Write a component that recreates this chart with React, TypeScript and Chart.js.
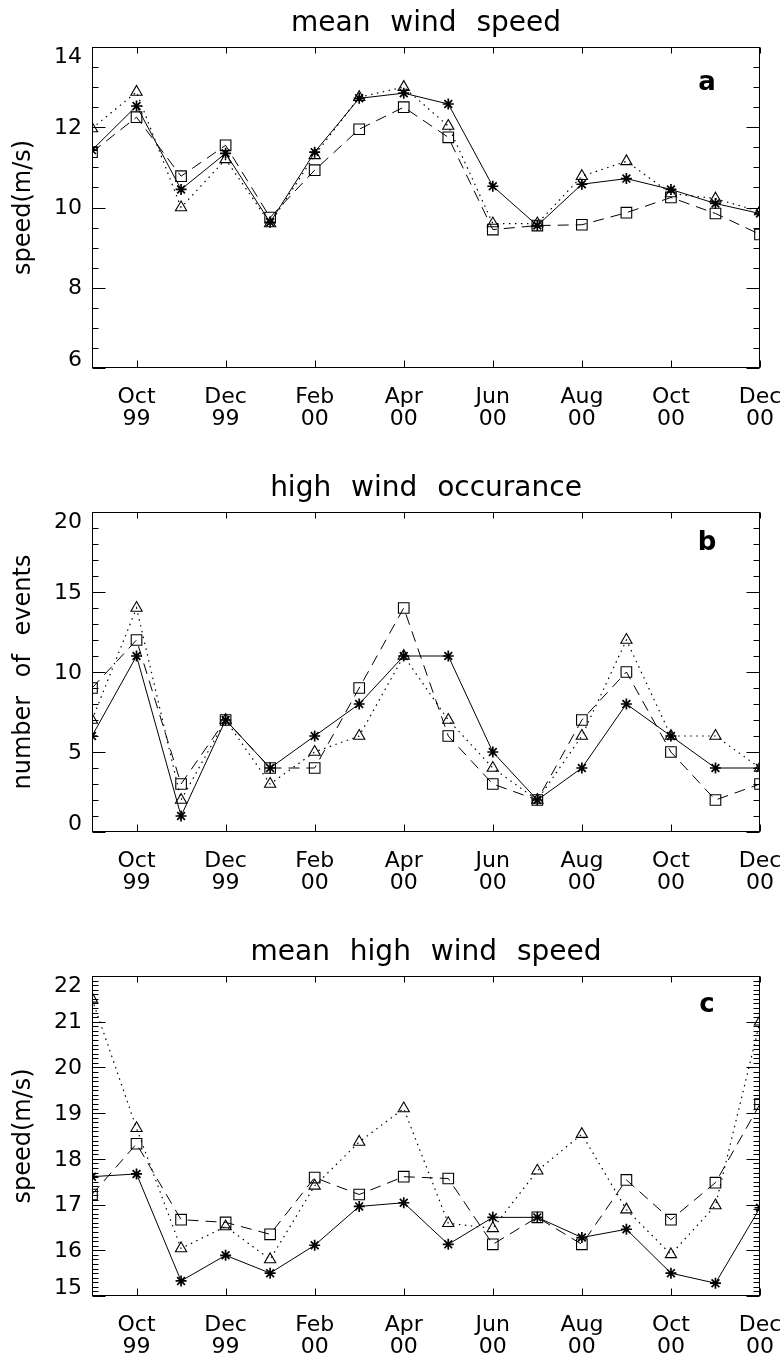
import React, { useEffect, useRef } from 'react';
import { Chart, registerables } from 'chart.js';

Chart.register(...registerables);

const months = ['Sep 99', 'Oct 99', 'Nov 99', 'Dec 99', 'Jan 00', 'Feb 00', 'Mar 00', 'Apr 00',
  'May 00', 'Jun 00', 'Jul 00', 'Aug 00', 'Sep 00', 'Oct 00', 'Nov 00', 'Dec 00'];
const tickMonths = ['Oct', 'Dec', 'Feb', 'Apr', 'Jun', 'Aug', 'Oct', 'Dec'];
const tickYears = ['99', '99', '00', '00', '00', '00', '00', '00'];

// panel a: mean wind speed
const windSolid = [11.43, 12.53, 10.45, 11.35, 9.63, 11.38, 12.72, 12.85, 12.58, 10.53, 9.55, 10.58, 10.72, 10.45, 10.1, 9.85];
const windDotted = [11.97, 12.88, 10.0, 11.2, 9.6, 11.3, 12.75, 13.0, 12.03, 9.6, 9.6, 10.78, 11.15, 10.35, 10.22, 9.9];
const windDashed = [11.38, 12.25, 10.78, 11.55, 9.75, 10.93, 11.95, 12.5, 11.75, 9.45, 9.55, 9.57, 9.87, 10.25, 9.85, 9.33];
const windTicks = [6, 8, 10, 12, 14];

// panel b: high wind occurance
const occSolid = [6, 11, 1, 7, 4, 6, 8, 11, 11, 5, 2, 4, 8, 6, 4, 4];
const occDotted = [7, 14, 2, 7, 3, 5, 6, 11, 7, 4, 2, 6, 12, 6, 6, 4];
const occDashed = [9, 12, 3, 7, 4, 4, 9, 14, 6, 3, 2, 7, 10, 5, 2, 3];
const occTicks = [0, 5, 10, 15, 20];

// panel c: mean high wind speed
const hsSolid = [17.61, 17.67, 15.33, 15.89, 15.5, 16.11, 16.96, 17.04, 16.13, 16.72, 16.72, 16.28, 16.46, 15.5, 15.28, 16.93];
const hsDotted = [21.5, 18.67, 16.04, 16.52, 15.8, 17.41, 18.37, 19.1, 16.59, 16.48, 17.74, 18.54, 16.89, 15.91, 16.98, 21.0];
const hsDashed = [17.22, 18.33, 16.67, 16.61, 16.35, 17.59, 17.22, 17.61, 17.57, 16.13, 16.72, 16.13, 17.54, 16.67, 17.48, 19.2];
const hsTicks = [15, 16, 17, 18, 19, 20, 21, 22];

const FONT = '"DejaVu Sans", sans-serif';

type PanelCfg = {
  title: string; yTitle: string; letter: string;
  solid: number[]; dotted: number[]; dashed: number[]; ticks: number[];
  minor: number; top: number; height: number; areaBottom: number; letterBaseline: number;
};

const panels: PanelCfg[] = [
  { title: 'mean wind speed', yTitle: 'speed(m/s)', letter: 'a', solid: windSolid, dotted: windDotted, dashed: windDashed,
    ticks: windTicks, minor: 0.5, top: 0, height: 440, areaBottom: 368, letterBaseline: 90 },
  { title: 'high wind occurance', yTitle: 'number of events', letter: 'b', solid: occSolid, dotted: occDotted, dashed: occDashed,
    ticks: occTicks, minor: 1, top: 465, height: 440, areaBottom: 367, letterBaseline: 550 },
  { title: 'mean high wind speed', yTitle: 'speed(m/s)', letter: 'c', solid: hsSolid, dotted: hsDotted, dashed: hsDashed,
    ticks: hsTicks, minor: 0.1, top: 929, height: 431, areaBottom: 367, letterBaseline: 1012 },
];

function makeFramePlugin(p: PanelCfg) {
  return {
    id: 'idlFrame',
    beforeDraw(chart: any) {
      (chart.ctx as any).wordSpacing = '11px';
    },
    afterDraw(chart: any) {
      const { ctx, chartArea: a, scales } = chart;
      const ys = scales.y;
      const xs = scales.x;
      const min = p.ticks[0];
      const max = p.ticks[p.ticks.length - 1];
      const major = p.ticks[1] - p.ticks[0];
      ctx.save();
      ctx.strokeStyle = '#000';
      ctx.lineWidth = 1;
      ctx.setLineDash([]);
      const L = Math.round(a.left) + 0.5;
      const R = Math.round(a.right) - 0.5;
      const T = Math.round(a.top) + 0.5;
      const B = Math.round(a.bottom) - 0.5;
      ctx.strokeRect(L, T, R - L, B - T);
      ctx.beginPath();
      const n = Math.round((max - min) / p.minor);
      for (let i = 0; i <= n; i++) {
        const v = min + i * p.minor;
        const r = (v - min) / major;
        const isMajor = Math.abs(r - Math.round(r)) < 1e-6;
        const len = isMajor ? 13 : 6;
        const py = Math.round(ys.getPixelForValue(v)) + 0.5;
        ctx.moveTo(L, py); ctx.lineTo(L + len, py);
        ctx.moveTo(R, py); ctx.lineTo(R - len, py);
      }
      for (let i = 1; i < months.length; i += 2) {
        const px = Math.round(xs.getPixelForValue(i)) + 0.5;
        ctx.moveTo(px, B); ctx.lineTo(px, B - 7);
        ctx.moveTo(px, T); ctx.lineTo(px, T + 6);
      }
      ctx.stroke();
      ctx.fillStyle = '#000';
      ctx.font = '22px ' + FONT;
      ctx.textAlign = 'right';
      ctx.textBaseline = 'middle';
      p.ticks.forEach((v) => {
        const off = v === min ? -8 : v === max ? 10 : 1;
        ctx.fillText(String(v), 82, ys.getPixelForValue(v) + off);
      });
      ctx.font = 'bold 26px ' + FONT;
      ctx.textAlign = 'center';
      ctx.textBaseline = 'alphabetic';
      ctx.fillText(p.letter, 707, p.letterBaseline - p.top);
      ctx.restore();
      (ctx as any).wordSpacing = '0px';
    },
  };
}

function Panel({ p }: { p: PanelCfg }) {
  const ref = useRef<HTMLCanvasElement | null>(null);
  useEffect(() => {
    if (!ref.current) return;
    const min = p.ticks[0];
    const max = p.ticks[p.ticks.length - 1];
    const chart = new Chart(ref.current, {
      type: 'line',
      data: {
        labels: months,
        datasets: [
          { label: 'solid', data: p.solid, borderColor: '#000', backgroundColor: 'transparent', borderWidth: 1,
            pointStyle: 'star', pointRadius: 5.5, pointBorderWidth: 1.7, pointBorderColor: '#000', tension: 0, clip: 0 } as any,
          { label: 'dotted', data: p.dotted, borderColor: '#000', backgroundColor: 'transparent', borderWidth: 1.2,
            borderDash: [1.5, 4.5], pointStyle: 'triangle', pointRadius: 6.5, pointBorderWidth: 1.1, pointBorderColor: '#000', tension: 0, clip: 0 } as any,
          { label: 'dashed', data: p.dashed, borderColor: '#000', backgroundColor: 'transparent', borderWidth: 1,
            borderDash: [11, 7], pointStyle: 'rect', pointRadius: 7.5, pointBorderWidth: 1.1, pointBorderColor: '#000', tension: 0, clip: 0 } as any,
        ],
      },
      options: {
        responsive: false,
        animation: false,
        devicePixelRatio: 1,
        layout: { padding: { left: 0, right: 24, top: 0, bottom: 0 } },
        plugins: {
          legend: { display: false },
          tooltip: { enabled: false },
          title: {
            display: true, text: p.title, color: '#000', fullSize: false,
            font: { family: FONT, size: 28, weight: 'normal', lineHeight: 1 },
            padding: { top: 9.6, bottom: 9.4 },
          },
        },
        scales: {
          x: {
            type: 'category',
            offset: false,
            grid: { display: false, drawTicks: false },
            border: { display: false },
            ticks: {
              autoSkip: false, maxRotation: 0, minRotation: 0, padding: 18, color: '#000',
              font: { family: FONT, size: 22, lineHeight: 1 },
              callback: (_v: any, i: number) => (i % 2 === 1 ? [tickMonths[(i - 1) / 2], tickYears[(i - 1) / 2]] : ''),
            },
            afterFit: (s: any) => {
              s.height = p.height - p.areaBottom;
              s.paddingLeft = 0;
              s.paddingRight = 0;
            },
          },
          y: {
            type: 'linear', min, max,
            grid: { display: false, drawTicks: false },
            border: { display: false },
            ticks: { display: false },
            title: {
              display: true, text: p.yTitle, color: '#000',
              font: { family: FONT, size: 24, lineHeight: 1 },
              padding: { top: 12, bottom: 0 },
            },
            afterFit: (s: any) => { s.width = 92; s.paddingTop = 0; s.paddingBottom = 0; },
          },
        },
      },
      plugins: [makeFramePlugin(p)],
    } as any);
    return () => chart.destroy();
  }, [p]);
  return (
    <canvas ref={ref} width={784} height={p.height}
      style={{ position: 'absolute', left: 0, top: p.top, width: 784, height: p.height }} />
  );
}

export default function App() {
  return (
    <div style={{ position: 'absolute', left: 0, top: 0, width: 784, height: 1360, background: '#fff', overflow: 'hidden' }}>
      {panels.map((p) => <Panel key={p.letter} p={p} />)}
    </div>
  );
}
